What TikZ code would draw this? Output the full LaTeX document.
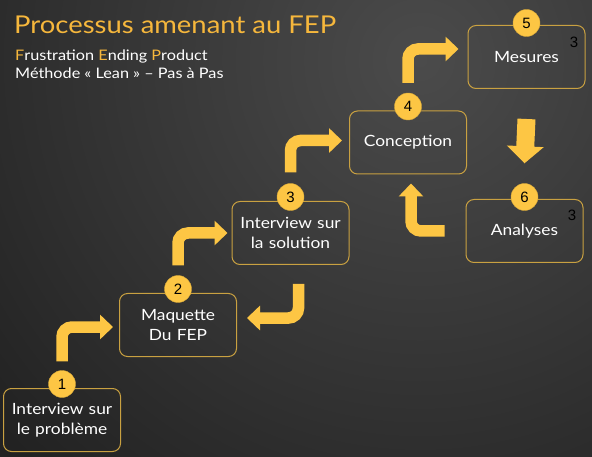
\documentclass[tikz,border=0pt]{standalone}
\usepackage{fontspec}
\setmainfont[FakeStretch=1.12]{Lato}
\newfontfamily\numfont{Liberation Sans}
\usetikzlibrary{positioning,arrows.meta}
\definecolor{fepgold}{HTML}{FDC644}
\definecolor{fepline}{HTML}{C9A141}
\definecolor{feptitle}{HTML}{F6B73C}
\definecolor{bghigh}{HTML}{4B4B4B}
\definecolor{bglow}{HTML}{222222}

\begin{document}
\begin{tikzpicture}[x=1pt,y=-1pt,
	stepbox/.style={draw=fepline,line width=1pt,rounded corners=8pt,minimum width=117pt,minimum height=63pt,text width=110pt,align=center,text=white,font=\fontsize{15.5}{20}\selectfont},
	numdot/.style={circle,fill=fepgold,draw=fepgold!85!black,minimum size=27pt,inner sep=0pt,font=\numfont\fontsize{15}{15}\selectfont},
	corner/.style={anchor=north east,inner sep=0pt,font=\numfont\fontsize{15}{15}\selectfont},
	bent/.style={draw=fepgold,line width=11.5pt,rounded corners=10pt,-{Triangle[width=24pt,length=13pt]}},
	downarr/.style={draw=fepgold,line width=18pt,-{Triangle[width=36pt,length=17pt]}}]
		% background
		\useasboundingbox (0,0) rectangle (592,457);
		\fill[bglow] (0,0) rectangle (592,457);
		\begin{scope}
			\clip (0,0) rectangle (592,457);
			\shade[inner color=bghigh,outer color=bglow] (420,60) circle (560);
		\end{scope}
		
		\node[anchor=base west,inner sep=0pt,text=feptitle,font=\fontsize{24.5}{24}\selectfont] (title) at (14,34) {Processus amenant au FEP};
		\node[anchor=base west,inner sep=0pt,text=white,font=\fontsize{14.5}{18}\selectfont] (sub1) at (15,61) {\textcolor{feptitle}{F}rustration \textcolor{feptitle}{E}nding \textcolor{feptitle}{P}roduct};
		\node[anchor=base west,inner sep=0pt,text=white,font=\fontsize{14.5}{18}\selectfont] (sub2) at (15,79) {Méthode « Lean » – Pas à Pas};
		
		\node[stepbox] (b1) at (62,420) {Interview sur\\le problème};
		\node[stepbox] (b2) at (178,325) {Maquette\\Du FEP};
		\node[stepbox] (b3) at (290.5,233) {Interview sur\\la solution};
		\node[stepbox] (b4) at (408,142.5) {Conception};
		\node[stepbox] (b5) at (526.5,57) {Mesures};
		\node[stepbox] (b6) at (524.5,231) {Analyses};
		
		\node[numdot] (n1) at ([yshift=4pt]b1.north) {1};
		\node[numdot] (n2) at ([yshift=4pt]b2.north) {2};
		\node[numdot] (n3) at ([yshift=4pt]b3.north) {3};
		\node[numdot] (n4) at ([yshift=4pt]b4.north) {4};
		\node[numdot] (n5) at ([yshift=2pt]b5.north) {5};
		\node[numdot] (n6) at ([yshift=2pt]b6.north) {6};
		
		\node[corner] (c5) at ([xshift=-7pt,yshift=-12pt]b5.north east) {3};
		\node[corner] (c6) at ([xshift=-7pt,yshift=-11pt]b6.north east) {3};
		
		\draw[bent] ([yshift=9pt]n1.north) |- ([xshift=-6pt,yshift=-2pt]b2.west);
		\draw[bent] ([yshift=10pt]n2.north) |- ([xshift=-4pt]b3.west);
		\draw[bent] ([yshift=11pt]n3.north) |- ([xshift=-7pt,yshift=2pt]b4.west);
		\draw[bent] ([yshift=10pt]n4.north) |- ([xshift=-9pt,yshift=8pt]b5.west);
		\draw[downarr] ([yshift=-30pt]b5.south) -- ([yshift=20pt]n6.north);
		\draw[bent] ([xshift=-21pt]b6.west) -| ([xshift=3pt,yshift=-9pt]b4.south);
		\draw[bent] ([xshift=8pt,yshift=-19pt]b3.south) |- ([xshift=10pt,yshift=7pt]b2.east);
	\end{tikzpicture}
\end{document}
